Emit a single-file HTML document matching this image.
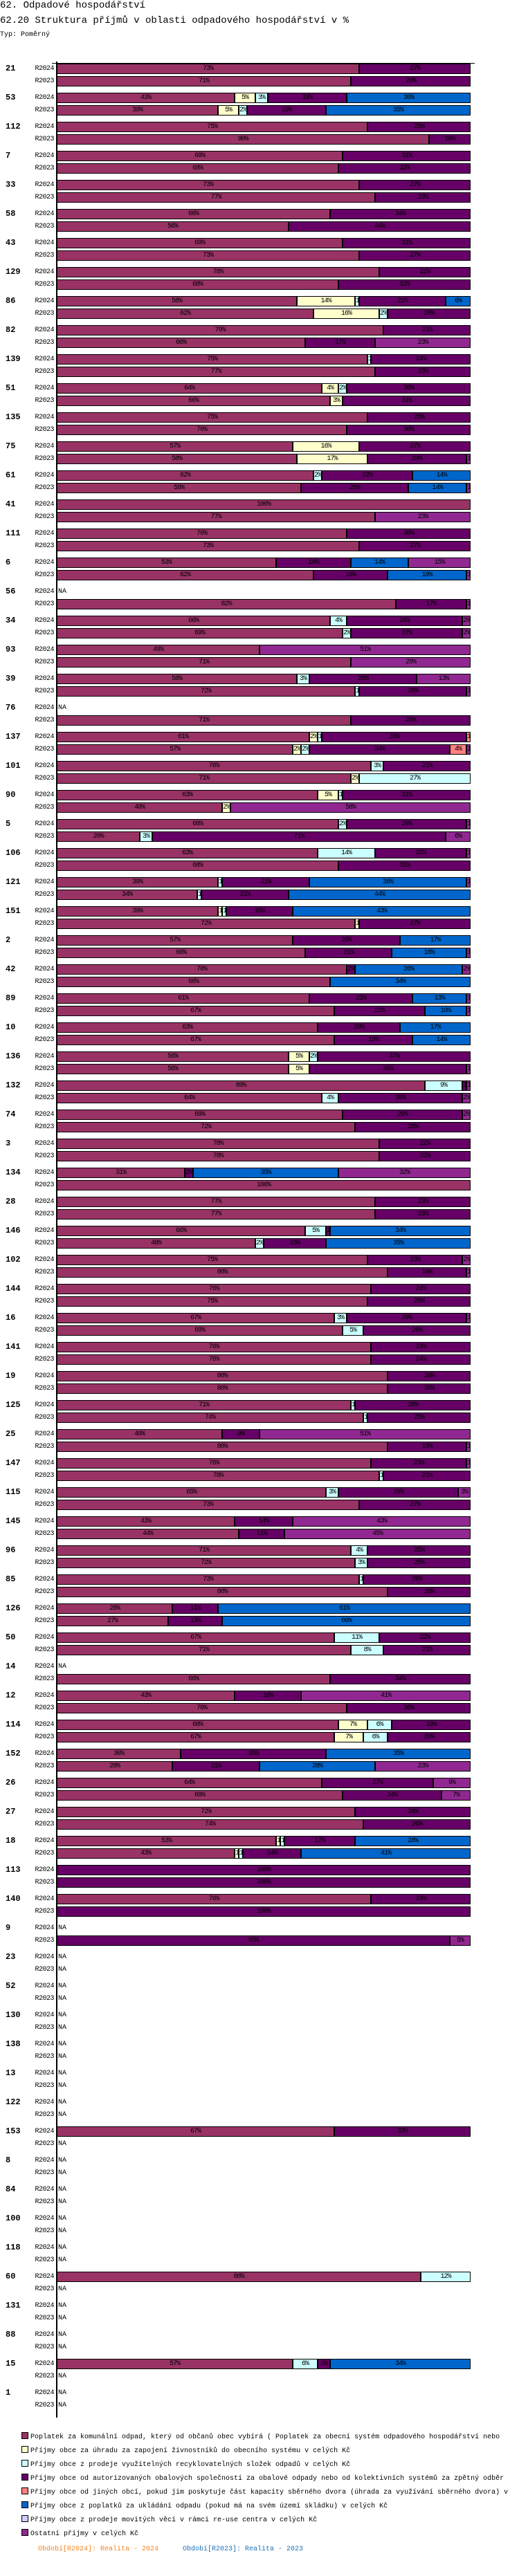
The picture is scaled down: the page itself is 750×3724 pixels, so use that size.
<!DOCTYPE html>
<html><head><meta charset="utf-8">
<style>
body{margin:0;width:750px;height:3724px;background:#fff;position:relative;overflow:hidden;font-family:"Liberation Mono",monospace;color:#000}
.t1{position:absolute;left:0;top:0;font-size:14px}
.t2{position:absolute;left:0;top:22px;font-size:14px}
.t3{position:absolute;left:0;top:45px;font-size:10px}
.g{position:absolute;left:8px;font-size:12px;font-weight:bold;height:15px;line-height:15px}
.p{position:absolute;width:46px;left:32px;text-align:right;font-size:10px;height:15px;line-height:15px;letter-spacing:-0.5px}
.na{position:absolute;left:84px;font-size:10px;height:15px;line-height:15px}
.seg{position:absolute;height:13px;border:1px solid #000;overflow:hidden;text-align:center;font-size:10px;line-height:13px;letter-spacing:-1px;white-space:nowrap;box-sizing:content-box}
.lg{position:absolute;left:31px;font-size:10px;white-space:nowrap;height:12px;line-height:12px}
.lg i{display:inline-block;width:8px;height:8px;border:1px solid #000;margin-right:3px;vertical-align:-1px}
</style></head><body>
<div class="t1">62. Odpadové hospodářství</div>
<div class="t2">62.20 Struktura příjmů v oblasti odpadového hospodářství v %</div>
<div class="t3">Typ: Poměrný</div>
<div id="chart"></div>
<div style="position:absolute;left:81px;top:89px;width:2px;height:3406px;background:#000"></div>
<div style="position:absolute;left:75px;top:91px;width:611px;height:1px;background:#000"></div>
<div id="legend"></div>
<div style="position:absolute;left:55px;top:3680px;font-size:10px;color:#f58220">Období[R2024]: Realita - 2024</div>
<div style="position:absolute;left:264px;top:3680px;font-size:10px;color:#1f6fb4">Období[R2023]: Realita - 2023</div>
<script>
const groups=["21","53","112","7","33","58","43","129","86","82","139","51","135","75","61","41","111","6","56","34","93","39","76","137","101","90","5","106","121","151","2","42","89","10","136","132","74","3","134","28","146","102","144","16","141","19","125","25","147","115","145","96","85","126","50","14","12","114","152","26","27","18","113","140","9","23","52","130","138","13","122","153","8","84","100","118","60","131","88","15","1"];
const r2024=[[73,0,0,27],[43,5,3,19,0,30],[75,0,0,25],[69,0,0,31],[73,0,0,27],[66,0,0,34],[69,0,0,31],[78,0,0,22],[58,14,1,21,0,6],[79,0,0,21],[75,0,1,24],[64,4,2,30],[75,0,0,25],[57,16,0,27],[62,0,2,22,0,14],[100],[70,0,0,30],[53,0,0,18,0,14,0,15],null,[66,0,4,28,0,0,0,2],[49,0,0,0,0,0,0,51],[58,0,3,26,0,0,0,13],null,[61,2,1,35,1],[76,0,3,21],[63,5,1,31],[68,0,2,29,0,0,0,1],[63,0,14,22,0,0,0,1],[39,0,1,21,0,38,0,1],[39,1,1,16,0,43],[57,0,0,26,0,17],[70,0,0,2,0,26,0,2],[61,0,0,25,0,13,0,1],[63,0,0,20,0,17],[56,5,2,37],[89,0,9,1,0,0,0,1],[69,0,0,29,0,0,0,2],[78,0,0,22],[31,0,0,2,0,35,0,32],[77,0,0,23],[60,0,5,1,0,34],[75,0,0,23,0,0,0,2],[76,0,0,24],[67,0,3,29,0,0,0,1],[76,0,0,24],[80,0,0,20],[71,0,1,28],[40,0,0,9,0,0,0,51],[76,0,0,23,0,0,0,1],[65,0,3,29,0,0,0,3],[43,0,0,14,0,0,0,43],[71,0,4,25],[73,0,1,26],[28,0,0,11,0,61],[67,0,11,22],null,[43,0,0,16,0,0,0,41],[68,7,6,19],[30,0,0,35,0,35],[64,0,0,27,0,0,0,9],[72,0,0,28],[53,1,1,17,0,28],[0,0,0,100],[76,0,0,24],null,null,null,null,null,null,null,[67,0,0,33],null,null,null,null,[88,0,12],null,null,[57,0,6,3,0,34],null];
const r2023=[[71,0,0,29],[39,5,2,19,0,35],[90,0,0,10],[68,0,0,32],[77,0,0,23],[56,0,0,44],[73,0,0,27],[68,0,0,32],[62,16,2,20],[60,0,0,17,0,0,0,23],[77,0,0,23],[66,3,0,31],[70,0,0,30],[58,17,0,24,0,0,0,1],[59,0,0,26,0,14,0,1],[77,0,0,0,0,0,0,23],[73,0,0,27],[62,0,0,18,0,19,0,1],[82,0,0,17,0,0,0,1],[69,0,2,27,0,0,0,2],[71,0,0,0,0,0,0,29],[72,0,1,26,0,0,0,1],[71,0,0,29],[57,2,2,34,4,0,0,1],[71,2,27],[40,2,0,0,0,0,0,58],[20,0,3,71,0,0,0,6],[68,0,0,32],[34,0,1,21,0,44],[72,1,0,27],[60,0,0,21,0,18,0,1],[66,0,0,0,0,34],[67,0,0,22,0,10,0,1],[67,0,0,19,0,14],[56,5,0,38,0,0,0,1],[64,0,4,30,0,0,0,2],[72,0,0,28],[78,0,0,22],[100],[77,0,0,23],[48,0,2,15,0,35],[80,0,0,19,0,0,0,1],[75,0,0,25],[69,0,5,26],[76,0,0,24],[80,0,0,20],[74,0,1,25],[80,0,0,19,0,0,0,1],[78,0,1,21],[73,0,0,27],[44,0,0,11,0,0,0,45],[72,0,3,25],[80,0,0,20],[27,0,0,13,0,60],[71,0,8,21],[66,0,0,34],[70,0,0,30],[67,7,6,20],[28,0,0,21,0,28,0,23],[69,0,0,24,0,0,0,7],[74,0,0,26],[43,1,1,14,0,41],[0,0,0,100],[0,0,0,100],[0,0,0,95,0,0,0,5],null,null,null,null,null,null,null,null,null,null,null,null,null,null,null,null];
const seriesNames=["Poplatek za komunální odpad, který od občanů obec vybírá ( Poplatek za obecní systém odpadového hospodářství  nebo","Příjmy obce za úhradu za zapojení živnostníků do obecního systému v celých Kč","Příjmy obce z prodeje využitelných recyklovatelných složek odpadů v celých Kč","Příjmy obce od autorizovaných obalových společností za obalové odpady nebo od kolektivních systémů za zpětný odběr","Příjmy obce od jiných obcí, pokud jim poskytuje část kapacity sběrného dvora (úhrada za využívání sběrného dvora) v","Příjmy obce z poplatků za ukládání odpadu (pokud má na svém území skládku) v celých Kč","Příjmy obce z prodeje movitých věcí v rámci re-use centra v celých Kč","Ostatní příjmy v celých Kč"];
const colors=["#993366","#ffffcc","#ccffff","#660066","#ff8080","#0066cc","#ccccff","#912891"];
const X0=82,W=598,TOP=92,PITCH=42,ROW=18;
const xs=v=>X0+v/100*W;
const chart=document.getElementById('chart');
function add(cls,txt,left,top,extra){const d=document.createElement('div');d.className=cls;d.textContent=txt;d.style.left=left+'px';d.style.top=top+'px';if(extra)Object.assign(d.style,extra);chart.appendChild(d);return d;}
function bar(vals,y,gi,per){
  const pl=add('p',per,32,y);
  
  
  if(!vals){const n=add('na','NA',84,y);
    
    return;}
  const tot=vals.reduce((a,b)=>a+b,0);let acc=0;
  vals.forEach((v,si)=>{if(!v)return;
    const x1=xs(acc/tot*100),x2=xs((acc+v)/tot*100);acc+=v;
    const s=add('seg',v+'%',Math.round(x1),y,{width:Math.max(0,Math.round(x2)-Math.round(x1)-2)+'px',background:colors[si]});
    
    
  });
}
groups.forEach((g,i)=>{const y=TOP+PITCH*i;
  const gl=add('g',g,8,y);
  
  
  bar(r2024[i],y,i,'R2024');bar(r2023[i],y+ROW,i,'R2023');});
const lg=document.getElementById('legend');
seriesNames.forEach((n,i)=>{const d=document.createElement('div');d.className='lg';d.style.top=(3516+20*i)+'px';
  d.innerHTML='<i style="background:'+colors[i]+'"></i>';d.appendChild(document.createTextNode(n));
  
  
  lg.appendChild(d);});
</script>
</body></html>
